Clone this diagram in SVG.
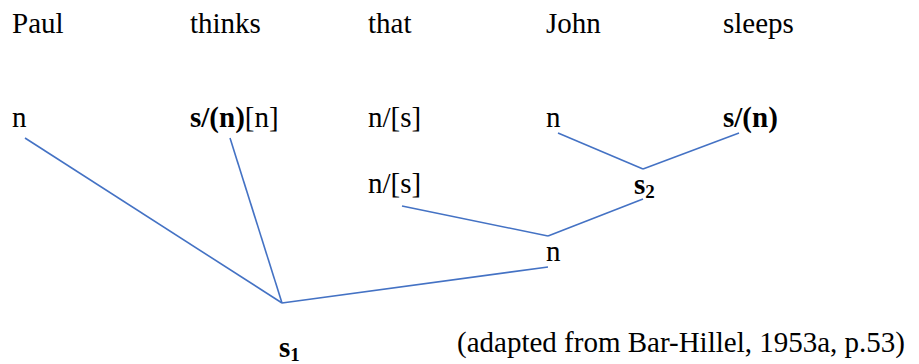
<svg xmlns="http://www.w3.org/2000/svg" width="919" height="364" viewBox="0 0 919 364">
<style>
text{fill:#000;font-size:29px}
.b{font-weight:bold}
.sub{font-size:19px;font-weight:bold}
#connectors line{stroke:#4472C4;stroke-width:1.6;fill:none}
</style>
<rect width="919" height="364" fill="#fff"/>
<g id="words">
<text x="12" y="33" font-family="Liberation Serif">Paul</text>
<text x="190" y="33" font-family="Liberation Serif">thinks</text>
<text x="368" y="33" font-family="Liberation Serif">that</text>
<text x="546" y="33" font-family="Liberation Serif">John</text>
<text x="723" y="33" font-family="Liberation Serif">sleeps</text>
</g>
<g id="node-paul-n"><text x="12" y="127" font-family="Liberation Serif">n</text></g>
<g id="node-thinks-cat"><text x="190" y="127" font-family="Liberation Serif"><tspan class="b">s/(n)</tspan>[n]</text></g>
<g id="node-that-cat"><text x="368" y="127" font-family="Liberation Serif">n/[s]</text></g>
<g id="node-john-n"><text x="546" y="127" font-family="Liberation Serif">n</text></g>
<g id="node-sleeps-cat"><text x="723" y="127" class="b" font-family="Liberation Serif">s/(n)</text></g>
<g id="node-that-cat2"><text x="368" y="193" font-family="Liberation Serif">n/[s]</text></g>
<g id="node-s2"><text x="634" y="194" class="b" font-family="Liberation Serif">s<tspan class="sub" dy="4">2</tspan></text></g>
<g id="node-n"><text x="546" y="261" font-family="Liberation Serif">n</text></g>
<g id="node-s1"><text x="279" y="357" class="b" font-family="Liberation Serif">s<tspan class="sub" dy="4">1</tspan></text></g>
<g id="caption"><text x="457" y="352" font-family="Liberation Serif">(adapted from Bar-Hillel, 1953a, p.53)</text></g>
<g id="connectors">
<line x1="25" y1="138" x2="282" y2="303"/>
<line x1="230" y1="138" x2="282" y2="303"/>
<line x1="282" y1="303" x2="548" y2="267"/>
<line x1="402" y1="206" x2="548" y2="236"/>
<line x1="548" y1="236" x2="643" y2="199"/>
<line x1="558" y1="133" x2="643" y2="169"/>
<line x1="643" y1="169" x2="739" y2="133"/>
</g>
</svg>
